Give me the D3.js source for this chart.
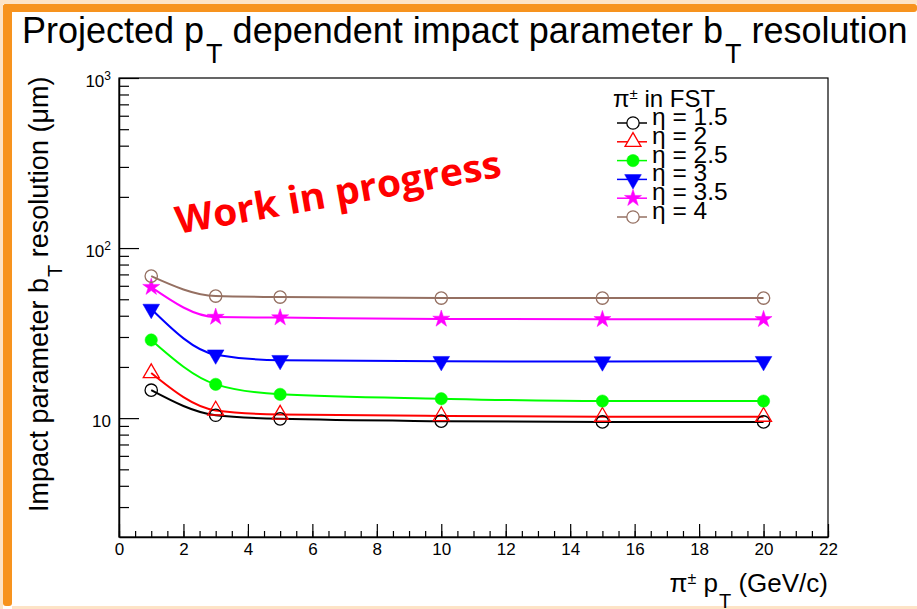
<!DOCTYPE html>
<html>
<head>
<meta charset="utf-8">
<script src="https://cdn.jsdelivr.net/npm/d3@7"></script>
<style>
  body { margin: 0; background: #fff; }
  svg { display: block; font-family: "Liberation Sans", Arial, sans-serif; }
</style>
</head>
<body>
<svg id="chart"></svg>
<script>
// pT points (GeV/c)
const pt = [1, 3, 5, 10, 15, 20];

// resolution values (um), one array per eta
const eta15 = [14.6, 10.4, 9.9, 9.6, 9.5, 9.5];
const eta2 = [18.4, 11.1, 10.5, 10.3, 10.2, 10.2];
const eta25 = [28.8, 15.8, 13.8, 13.0, 12.6, 12.6];
const eta3 = [43.8, 23.6, 21.9, 21.6, 21.5, 21.6];
const eta35 = [58.9, 39.3, 39.0, 38.3, 38.1, 38.1];
const eta4 = [68.4, 52.2, 51.5, 50.8, 50.8, 50.8];

const seriesLabels = ["1.5", "2", "2.5", "3", "3.5", "4"];
const seriesColors = ["#000000", "#ff0000", "#00ff00", "#0000ff", "#ff00ff", "#957062"];
const seriesMarkers = ["openCircle", "openTriangle", "circle", "downTriangle", "star", "openCircle"];

const xTickValues = [0, 2, 4, 6, 8, 10, 12, 14, 16, 18, 20, 22];
const yTickValues = [10, 100, 1000];
const yTickExp = ["", "2", "3"];

const series = [eta15, eta2, eta25, eta3, eta35, eta4].map((vals, i) => ({
    label: seriesLabels[i],
    color: seriesColors[i],
    marker: seriesMarkers[i],
    points: pt.map((p, j) => ({ pt: p, res: vals[j] }))
}));

// chart dimensions and margins
const width = 917;
const height = 609;
const marginTop = 78;
const marginRight = 89;
const marginBottom = 72;
const marginLeft = 119;

const x = d3.scaleLinear([0, 22], [marginLeft, width - marginRight]);
const y = d3.scaleLog([2, 1000], [height - marginBottom, marginTop]);

const svg = d3.select("#chart")
    .attr("width", width)
    .attr("height", height)
    .attr("viewBox", [0, 0, width, height]);

// orange slide frame
const orange = "#f7931e";
svg.append("rect").attr("x", 0).attr("y", 0).attr("width", 3).attr("height", height).attr("fill", "#fde3c6");
svg.append("rect").attr("x", 0).attr("y", 0).attr("width", width).attr("height", 4).attr("fill", "#fde3c6");
svg.append("rect").attr("x", 12).attr("y", 606).attr("width", width - 12).attr("height", 3).attr("fill", "#fde3c6");
svg.append("rect").attr("x", 3).attr("y", 4).attr("width", width - 3).attr("height", 8).attr("rx", 3).attr("fill", orange);
svg.append("rect").attr("x", 3).attr("y", 4).attr("width", 9).attr("height", 602).attr("rx", 3).attr("fill", orange);

// title
const title = svg.append("text")
    .attr("x", 22)
    .attr("y", 43)
    .attr("font-size", 36)
    .attr("fill", "#000");
title.append("tspan").text("Projected p");
title.append("tspan").attr("dx", 2).attr("dy", 20).attr("font-size", 27).text("T");
title.append("tspan").attr("dy", -20).text(" dependent impact parameter b");
title.append("tspan").attr("dx", 2).attr("dy", 20).attr("font-size", 27).text("T");
title.append("tspan").attr("dy", -20).text(" resolution");

// plot frame
svg.append("rect")
    .attr("x", marginLeft)
    .attr("y", marginTop)
    .attr("width", width - marginLeft - marginRight)
    .attr("height", height - marginTop - marginBottom)
    .attr("fill", "none")
    .attr("stroke", "#000")
    .attr("stroke-width", 1.2);

// x axis: minor ticks, then major ticks with labels
svg.append("g")
    .attr("transform", `translate(0,${height - marginBottom})`)
    .call(d3.axisBottom(x).tickValues(d3.range(0, 22.01, 0.5)).tickSize(-6).tickSizeOuter(0).tickFormat(""))
    .call(g => g.select(".domain").remove())
    .call(g => g.selectAll(".tick line").attr("stroke-width", 1.2));

svg.append("g")
    .attr("transform", `translate(0,${height - marginBottom})`)
    .call(d3.axisBottom(x).tickValues(xTickValues).tickSize(-13).tickSizeOuter(0).tickPadding(6).tickFormat(d3.format("d")))
    .call(g => g.select(".domain").attr("stroke-width", 1.5))
    .call(g => g.selectAll(".tick line").attr("stroke-width", 1.2))
    .call(g => g.selectAll(".tick text")
        .attr("font-family", "Liberation Sans, Arial, sans-serif")
        .attr("font-size", 17)
        .attr("fill", "#000"));

// y axis: minor ticks, then major ticks with power labels
svg.append("g")
    .attr("transform", `translate(${marginLeft},0)`)
    .call(d3.axisLeft(y).tickValues(y.ticks().filter(v => v > 2 && !yTickValues.includes(v))).tickSize(-10).tickSizeOuter(0).tickFormat(""))
    .call(g => g.select(".domain").remove())
    .call(g => g.selectAll(".tick line").attr("stroke-width", 1.2));

svg.append("g")
    .attr("transform", `translate(${marginLeft},0)`)
    .call(d3.axisLeft(y).tickValues(yTickValues).tickSize(-20).tickSizeOuter(0).tickPadding(8).tickFormat(""))
    .call(g => g.select(".domain").attr("stroke-width", 1.5))
    .call(g => g.selectAll(".tick line").attr("stroke-width", 1.2))
    .call(g => g.selectAll(".tick text")
        .attr("font-family", "Liberation Sans, Arial, sans-serif")
        .attr("font-size", 17)
        .attr("fill", "#000")
        .attr("dy", 8)
        .each(function(d, i) {
            const t = d3.select(this);
            t.append("tspan").text("10");
            if (yTickExp[i]) {
                t.append("tspan").attr("dy", -7).attr("font-size", 12).text(yTickExp[i]);
            }
        }));

// axis titles
const xTitle = svg.append("text")
    .attr("x", width - marginRight)
    .attr("y", 592)
    .attr("text-anchor", "end")
    .attr("font-size", 26)
    .attr("fill", "#000");
xTitle.append("tspan").text("π");
xTitle.append("tspan").attr("dy", -8).attr("font-size", 16).text("±");
xTitle.append("tspan").attr("dy", 8).text(" p");
xTitle.append("tspan").attr("dx", 1).attr("dy", 16).attr("font-size", 20).text("T");
xTitle.append("tspan").attr("dy", -16).text(" (GeV/c)");

const yTitle = svg.append("text")
    .attr("transform", "translate(48,512) rotate(-90)")
    .attr("font-size", 27)
    .attr("fill", "#000");
yTitle.append("tspan").text("Impact parameter b");
yTitle.append("tspan").attr("dx", 1).attr("dy", 14).attr("font-size", 20).text("T");
yTitle.append("tspan").attr("dy", -14).text(" resolution (μm)");

// marker shapes
const markerPath = (kind) => {
    if (kind === "openCircle" || kind === "circle") return d3.symbol(d3.symbolCircle, 120)();
    if (kind === "openTriangle") return d3.symbol(d3.symbolTriangle, 110)();
    if (kind === "downTriangle") return d3.symbol(d3.symbolTriangle, 120)();
    return d3.symbol(d3.symbolStar, 90)();
};
const drawMarker = (sel, s, fillOpen) => {
    const open = s.marker.startsWith("open");
    sel.append("path")
        .attr("d", markerPath(s.marker))
        .attr("transform", s.marker === "downTriangle" ? "rotate(180)" : null)
        .attr("fill", open ? fillOpen : s.color)
        .attr("stroke", s.color)
        .attr("stroke-width", open ? 1.3 : 0.5);
};

// fit-like curves through the points
const line = d3.line()
    .x(d => x(d.pt))
    .y(d => y(d.res))
    .curve(d3.curveMonotoneX);

series.forEach(s => {
    svg.append("path")
        .attr("fill", "none")
        .attr("stroke", s.color)
        .attr("stroke-width", 2)
        .attr("d", line(s.points));
});

series.forEach(s => {
    svg.append("g")
        .selectAll("g")
        .data(s.points)
        .join("g")
        .attr("transform", d => `translate(${x(d.pt)},${y(d.res)})`)
        .each(function() { drawMarker(d3.select(this), s, "none"); });
});

// legend
const legendX = 617;
const legendY = 123;
const legendStep = 18.8;
const legendHead = svg.append("text")
    .attr("x", 613)
    .attr("y", 107)
    .attr("font-size", 24)
    .attr("fill", "#000");
legendHead.append("tspan").text("π");
legendHead.append("tspan").attr("dy", -8).attr("font-size", 15).text("±");
legendHead.append("tspan").attr("dy", 8).text(" in FST");

series.forEach((s, i) => {
    const g = svg.append("g").attr("transform", `translate(${legendX},${legendY + i * legendStep})`);
    g.append("line")
        .attr("x1", 0).attr("x2", 30)
        .attr("stroke", s.color)
        .attr("stroke-width", 1.5);
    const m = g.append("g").attr("transform", "translate(16,0)");
    drawMarker(m, s, "#fff");
    g.append("text")
        .attr("x", 35)
        .attr("y", 2)
        .attr("font-size", 24.5)
        .attr("fill", "#000")
        .text(`η = ${s.label}`);
});

// watermark
svg.append("text")
    .attr("transform", "translate(178,234) rotate(-10)")
    .attr("font-family", "Open Sans, sans-serif")
    .attr("font-weight", "bold")
    .attr("font-size", 38)
    .attr("fill", "#ff0000")
    .attr("textLength", 330)
    .attr("lengthAdjust", "spacingAndGlyphs")
    .text("Work in progress");
</script>
</body>
</html>
